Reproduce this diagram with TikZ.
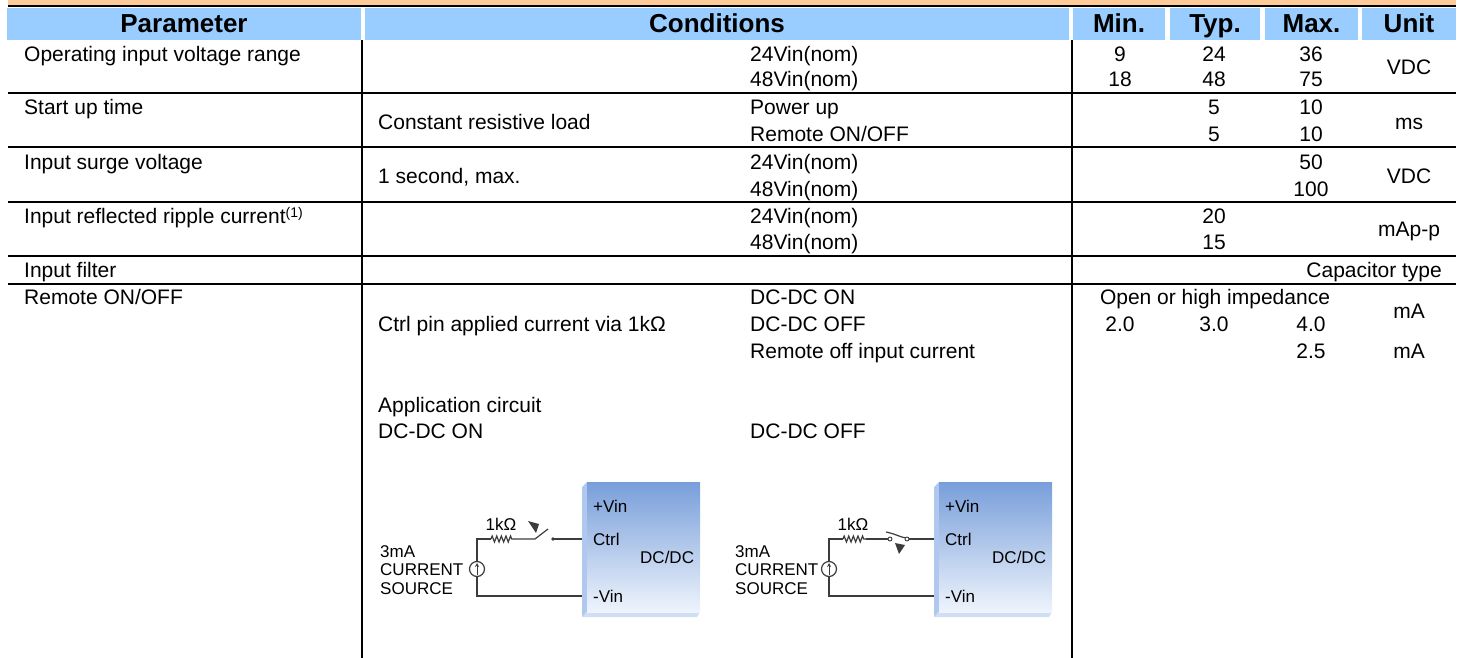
\documentclass[tikz,border=0pt]{standalone}
\usepackage{fontspec}
\setmainfont{Liberation Sans}
\usetikzlibrary{arrows.meta,decorations.pathmorphing}

\definecolor{headblue}{RGB}{153,204,255}
\definecolor{bandorange}{RGB}{255,204,153}
\definecolor{boxtop}{RGB}{120,158,218}
\definecolor{boxbot}{RGB}{238,244,252}
\definecolor{boxside}{RGB}{176,200,238}
\definecolor{wiregray}{RGB}{60,60,60}

\tikzset{
  txt/.style={font=\fontsize{21}{24}\selectfont, inner sep=0pt},
  lt/.style={txt, anchor=base west},
  ct/.style={txt, anchor=base},
  rt/.style={txt, anchor=base east},
  hd/.style={font=\fontsize{26}{30}\selectfont\bfseries, inner sep=0pt, anchor=base},
  sm/.style={font=\fontsize{17}{20}\selectfont, inner sep=0pt, anchor=base west},
  rule/.style={line width=1.4pt},
  wire/.style={wiregray, line width=1.2pt},
}

\begin{document}
\begin{tikzpicture}[x=1pt, y=-1pt]
    \useasboundingbox (0,0) rectangle (1461,658);

    % top band and header
    \fill[bandorange] (8,0) rectangle (1456,6);
    \draw[line width=2pt] (8,6.5) -- (1456,6.5);
    \foreach \a/\b/\n/\t in {7/361/param/Parameter, 365/1069/cond/Conditions, 1073/1165/min/Min., 1170/1260/typ/Typ., 1265/1358/max/Max., 1362/1456/unit/Unit} {
        \fill[headblue] (\a,8) rectangle (\b,40);
        \node[hd] (h-\n) at ({(\a+\b)/2},33) {\t};
    }

    % table rules
    \foreach \y in {93,147,202,256,284}
        \draw[rule] (8,\y) -- (1456,\y);
    \foreach \x in {362,1072}
        \draw[rule] (\x,40) -- (\x,658);

    % parameter column
    \node[lt] (p-range) at (24,62) {Operating input voltage range};
    \node[lt] (p-start) at (24,115) {Start up time};
    \node[lt] (p-surge) at (24,169) {Input surge voltage};
    \node[lt] (p-ripple) at (24,223) {Input reflected ripple current\raisebox{6pt}{\fontsize{14}{16}\selectfont(1)}};
    \node[lt] (p-filter) at (24,277) {Input filter};
    \node[lt] (p-remote) at (24,304) {Remote ON/OFF};

    % conditions
    \node[lt] (c-load) at (378,129) {Constant resistive load};
    \node[lt] (c-second) at (378,183) {1 second, max.};
    \node[lt] (c-ctrl) at (378,331) {Ctrl pin applied current via 1kΩ};
    \node[lt] (c-app) at (378,412) {Application circuit};
    \node[lt] (c-appon) at (378,438) {DC-DC ON};
    \foreach \y/\t [count=\i] in {62/24Vin(nom), 87/48Vin(nom), 115/Power up, 142/{Remote ON/OFF}, 169/24Vin(nom), 196/48Vin(nom), 223/24Vin(nom), 249/48Vin(nom), 304/DC-DC ON, 331/DC-DC OFF, 358/Remote off input current, 438/DC-DC OFF}
        \node[lt] (s\i) at (750,\y) {\t};

    % values
    \foreach \x/\y/\v [count=\i] in {1120/62/9, 1214/62/24, 1311/62/36, 1120/87/18, 1214/87/48, 1311/87/75, 1214/115/5, 1311/115/10, 1214/142/5, 1311/142/10, 1311/169/50, 1311/196/100, 1214/223/20, 1214/249/15, 1120/331/2.0, 1214/331/3.0, 1311/331/4.0, 1311/358/2.5}
        \node[ct] (v\i) at (\x,\y) {\v};
    \node[ct] (v-open) at (1215,304) {Open or high impedance};
    \node[rt] (v-cap) at (1442,277) {Capacitor type};

    % units
    \foreach \y/\u [count=\i] in {75/VDC, 129/ms, 183/VDC, 236/mAp-p, 318/mA, 358/mA}
        \node[ct] (u\i) at (1409,\y) {\u};

    % application circuits
    \foreach \o/\lx/\s in {0/380/L, 352/735/R} {
        \fill[boxside] (582+\o,487) -- (587+\o,482) -- (587+\o,612) -- (582+\o,617) -- cycle;
        \fill[boxside!60!white] (582+\o,617) -- (587+\o,612) -- (700+\o,612) -- (697+\o,617) -- cycle;
        \shade[top color=boxtop, bottom color=boxbot] (587+\o,482) rectangle (700+\o,612);
        \node[sm] (pv-\s) at (593+\o,512) {+Vin};
        \node[sm] (ctrl-\s) at (593+\o,545) {Ctrl};
        \node[sm] (dc-\s) at (640+\o,563) {DC/DC};
        \node[sm] (mv-\s) at (593+\o,602) {-Vin};
        \coordinate (in-\s) at (582+\o,539);
        \coordinate (gnd-\s) at (582+\o,596);

        \node[sm] (ma-\s) at (\lx,557) {3mA};
        \node[sm] (cur-\s) at (\lx,575) {CURRENT};
        \node[sm] (sou-\s) at (\lx,594) {SOURCE};
        \node[draw=wiregray, line width=1.2pt, circle, minimum size=15pt, inner sep=0pt] (src-\s) at (477+\o,569) {};
        \draw[wiregray, line width=1pt, -{Stealth[length=4pt,width=4pt]}] (477+\o,575) -- (477+\o,563);

        \coordinate (r1-\s) at (491+\o,539);
        \coordinate (r2-\s) at (514+\o,539);
        \draw[wire] (src-\s.north) |- (r1-\s);
        \draw[wire, decorate, decoration={zigzag, segment length=4.6pt, amplitude=3pt}] (r1-\s) -- (r2-\s);
        \node[sm, anchor=base] (res-\s) at (501+\o,530) {1kΩ};
        \draw[wire] (src-\s.south) |- (gnd-\s);
    }

    % open switch
    \coordinate (swa-L) at (535,539);
    \coordinate (swb-L) at (553,539);
    \draw[wire] (r2-L) -- (swa-L) -- (548,529);
    \fill[wiregray] (swb-L) circle (1.8);
    \draw[wire] (swb-L) -- (in-L);
    \fill[wiregray] (528,521) -- (539,524) -- (536,533) -- cycle;

    % closed switch
    \coordinate (swa-R) at (890,539);
    \coordinate (swb-R) at (907,539);
    \draw[wire] (r2-R) -- (swa-R);
    \draw[wire] (swb-R) -- (in-R);
    \draw[wire] (886,532) .. controls (896,534) and (902,538) .. (907,538);
    \draw[wiregray, fill=white, line width=0.9pt] (swa-R) circle (2);
    \draw[wiregray, fill=white, line width=0.9pt] (swb-R) circle (2);
    \fill[wiregray] (895,543) -- (905,545) -- (899,554) -- cycle;
\end{tikzpicture}
\end{document}
